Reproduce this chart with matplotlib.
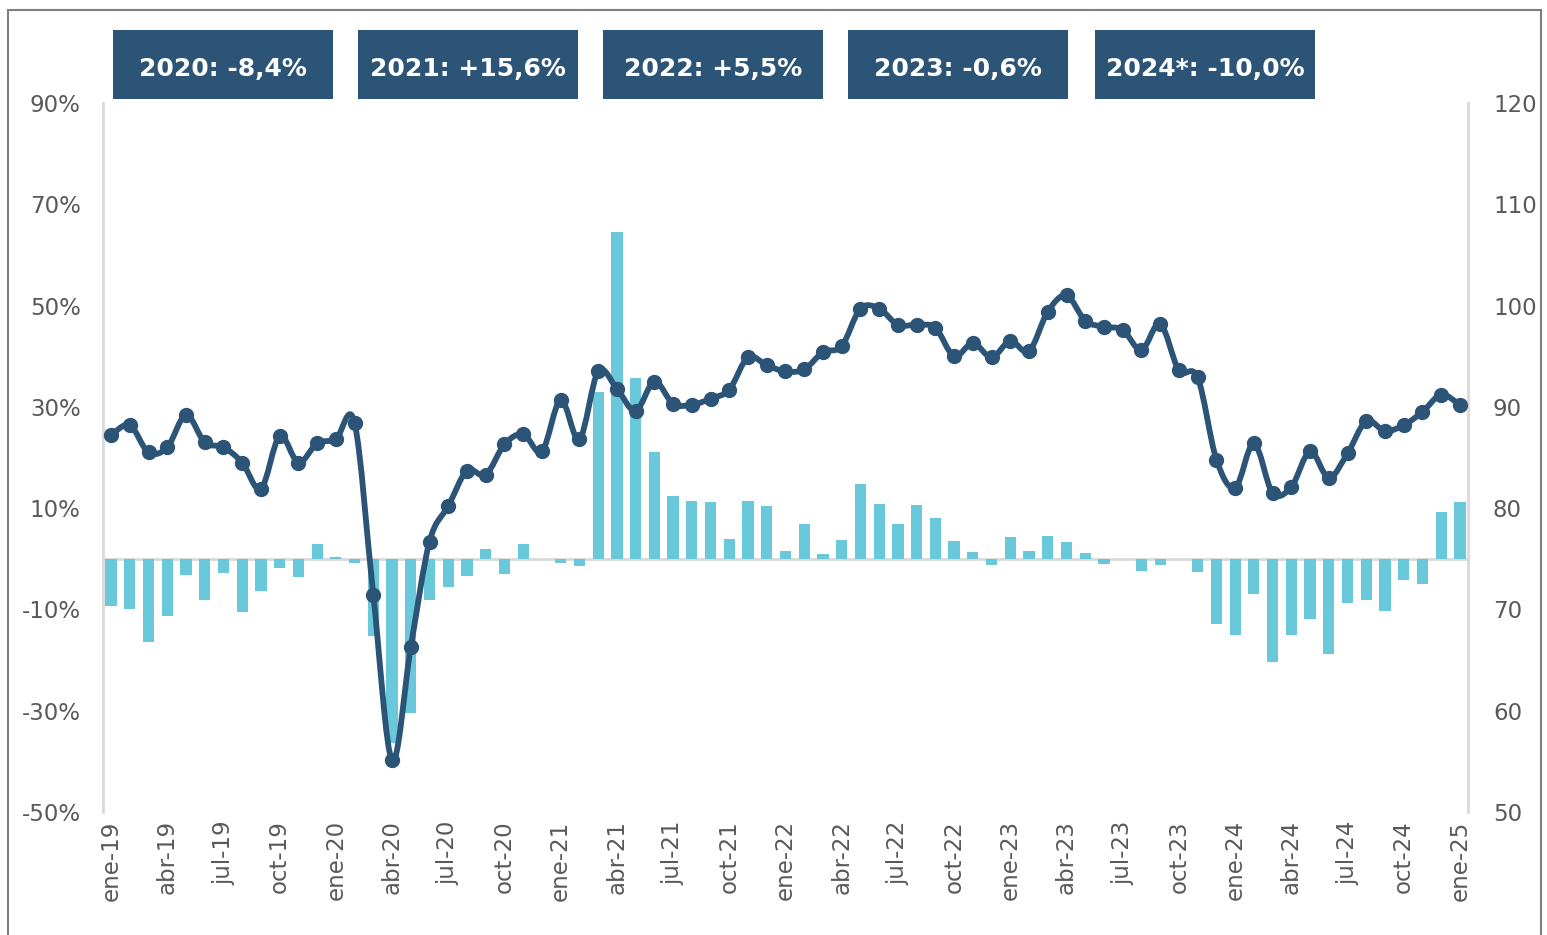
import numpy as np
import matplotlib
matplotlib.use("Agg")
import matplotlib.pyplot as plt
from matplotlib.path import Path
from matplotlib.patches import PathPatch, Rectangle

# ── data ──────────────────────────────────────────────────────────────────────
# monthly index (right axis), ene-19 .. ene-25
index_vals = [87.2, 88.2, 85.5, 86.0, 89.2, 86.5, 86.0, 84.5, 81.9, 87.1, 84.5, 86.4,
              86.8, 88.4, 71.4, 55.1, 66.3, 76.7, 80.2, 83.7, 83.3, 86.3, 87.3, 85.6,
              90.7, 86.8, 93.5, 91.8, 89.6, 92.5, 90.3, 90.2, 90.8, 91.7, 94.9, 94.1,
              93.5, 93.7, 95.4, 96.0, 99.7, 99.7, 98.1, 98.1, 97.8, 95.0, 96.3, 94.9,
              96.5, 95.5, 99.4, 101.0, 98.5, 97.9, 97.6, 95.6, 98.2, 93.6, 92.9, 84.8,
              82.0, 86.4, 81.5, 82.1, 85.6, 83.0, 85.4, 88.6, 87.6, 88.2, 89.5, 91.2,
              90.2]

# year-on-year change, % (left axis)
yoy_pct = [-9.3, -10.0, -16.4, -11.2, -3.2, -8.2, -2.9, -10.6, -6.4, -1.9, -3.5, 2.9,
           0.3, -0.8, -15.2, -36.3, -30.5, -8.1, -5.6, -3.4, 1.9, -3.0, 2.9, 0.0,
           -0.8, -1.4, 32.9, 64.5, 35.7, 21.1, 12.4, 11.4, 11.2, 3.9, 11.4, 10.4,
           1.5, 6.9, 0.9, 3.7, 14.8, 10.8, 6.9, 10.6, 8.1, 3.5, 1.3, -1.2,
           4.3, 1.5, 4.5, 3.3, 1.1, -1.0, 0.0, -2.4, -1.2, 0.0, -2.6, -12.9,
           -15.1, -7.0, -20.4, -15.1, -11.9, -18.8, -8.8, -8.2, -10.3, -4.2, -5.0, 9.2,
           11.2]

tick_labels = ["ene-19", "abr-19", "jul-19", "oct-19",
               "ene-20", "abr-20", "jul-20", "oct-20",
               "ene-21", "abr-21", "jul-21", "oct-21",
               "ene-22", "abr-22", "jul-22", "oct-22",
               "ene-23", "abr-23", "jul-23", "oct-23",
               "ene-24", "abr-24", "jul-24", "oct-24",
               "ene-25"]

annual_labels = ["2020: -8,4%", "2021: +15,6%", "2022: +5,5%", "2023: -0,6%", "2024*: -10,0%"]

BAR_COLOR = "#69C8DA"
LINE_COLOR = "#2C5477"
TEXT_GRAY = "#595959"
AXIS_GRAY = "#D9D9D9"

plt.rcParams["font.family"] = ["DejaVu Sans"]

x = np.arange(len(index_vals))
y = np.array(index_vals)

fig = plt.figure(figsize=(15.47, 9.35), dpi=100)
ax = fig.add_axes([103 / 1547, 123 / 935, 1365 / 1547, 709 / 935])

# bars
ax.bar(x, yoy_pct, width=0.6, color=BAR_COLOR, zorder=2)
ax.axhline(0, color=AXIS_GRAY, linewidth=2, zorder=1)
ax.set_ylim(-50, 90)
ax.set_yticks(np.arange(-50, 91, 20))
ax.set_yticklabels([f"{v}%" for v in range(-50, 91, 20)])
ax.set_xlim(-0.43, len(x) - 1 + 0.43)
ax.set_xticks(x[::3])
ax.set_xticklabels(tick_labels, rotation=90)
ax.tick_params(axis="both", length=0, labelsize=16.5, colors=TEXT_GRAY)
ax.tick_params(axis="x", pad=6)
ax.tick_params(axis="y", pad=16)
for side in ("top", "bottom"):
    ax.spines[side].set_visible(False)
for side in ("left", "right"):
    ax.spines[side].set_color(AXIS_GRAY)
    ax.spines[side].set_linewidth(2)

# line on secondary axis, smoothed like Excel (Catmull-Rom -> cubic Bezier)
ax2 = ax.twinx()
ax2.set_ylim(50, 120)
ax2.set_yticks(np.arange(50, 121, 10))
ax2.tick_params(axis="y", length=0, labelsize=16.5, colors=TEXT_GRAY, pad=18)
for side in ("top", "bottom", "left", "right"):
    ax2.spines[side].set_visible(False)

verts = [(x[0], y[0])]
codes = [Path.MOVETO]
n = len(x)
for i in range(n - 1):
    p0 = np.array([x[max(i - 1, 0)], y[max(i - 1, 0)]])
    p1 = np.array([x[i], y[i]])
    p2 = np.array([x[i + 1], y[i + 1]])
    p3 = np.array([x[min(i + 2, n - 1)], y[min(i + 2, n - 1)]])
    c1 = p1 + (p2 - p0) / 6.0
    c2 = p2 - (p3 - p1) / 6.0
    verts += [tuple(c1), tuple(c2), tuple(p2)]
    codes += [Path.CURVE4] * 3
ax2.add_patch(PathPatch(Path(verts, codes), facecolor="none", edgecolor=LINE_COLOR,
                        linewidth=4.2, capstyle="round", joinstyle="round", zorder=3))
ax2.plot(x, y, linestyle="none", marker="o", markersize=10, color=LINE_COLOR, zorder=4)

# annual summary boxes
box_left = [113, 358, 603, 848, 1095]
for left, label in zip(box_left, annual_labels):
    fig.add_artist(Rectangle((left / 1547, (935 - 99) / 935), 220 / 1547, 69 / 935,
                             transform=fig.transFigure, facecolor=LINE_COLOR,
                             edgecolor="none"))
    fig.text((left + 110) / 1547, (935 - 69) / 935, label, ha="center", va="center",
             color="white", fontsize=18, fontweight="bold")

# outer frame
fig.add_artist(Rectangle((8 / 1547, -0.05), 1533 / 1547, 1.05 - 10 / 935,
                         transform=fig.transFigure, facecolor="none",
                         edgecolor="#7F7F7F", linewidth=1.5, clip_on=False))

fig.savefig("out.png", dpi=100)
